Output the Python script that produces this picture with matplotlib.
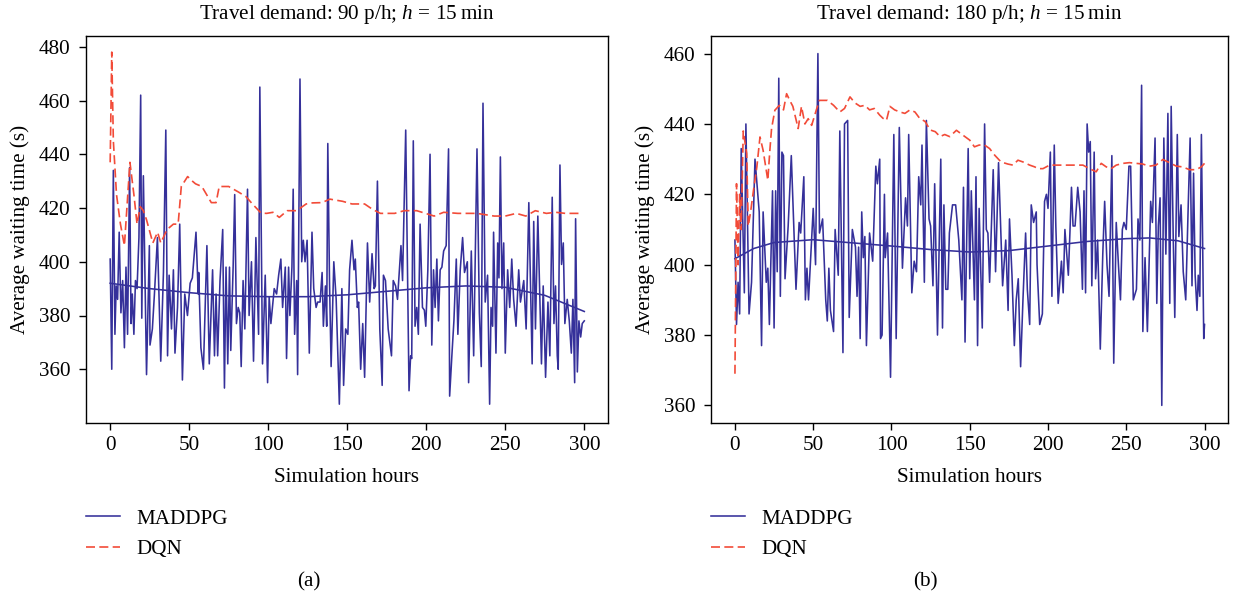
import numpy as np
import matplotlib.pyplot as plt

plt.rcParams['font.family'] = ['Liberation Serif', 'DejaVu Serif']
plt.rcParams['mathtext.fontset'] = 'custom'
plt.rcParams['mathtext.rm'] = 'Liberation Serif'
plt.rcParams['mathtext.it'] = 'Liberation Serif:italic'

# ---- panel (a): 90 p/h ----
hoursA = [0, 1, 2, 3, 3.8, 4.7, 5.7, 6.8, 7.9, 9, 10, 11, 12.3, 13.2, 14, 15, 16, 17, 18.2, 19.3,
          20, 21, 23, 24.8, 25.2, 26.7, 28, 29.9, 32, 33.7, 35.2, 36.3, 37.3, 38.8, 40, 41, 42.6, 44,
          45.7, 47.2, 48.9, 50.6, 52, 54.3, 55.7, 56, 57.4, 59, 61.2, 62.7, 64.8, 66, 67, 68, 69.5,
          71.2, 72.3, 73.3, 74.4, 75.5, 76.3, 77.8, 78.8, 79.9, 81, 82, 82.9, 84.1, 85.2, 86.9, 87.9,
          89.4, 90.7, 92.2, 93.9, 94.7, 96.4, 98.1, 99.6, 100.6, 101.7, 103.8, 105.3, 106.6, 108,
          109.1, 110.8, 111.6, 112.9, 113.7, 115, 115.8, 116.7, 118, 118.6, 120.1, 121.2, 122.2,
          123.3, 124.6, 126, 127.7, 128.8, 130.3, 131.3, 132.8, 134.1, 134.9, 136.2, 137, 137.7,
          138.8, 139.8, 141.5, 143, 145, 146.6, 147.7, 149, 150.4, 151.5, 153, 154.3, 155.1, 156.4,
          157.2, 158.5, 159.8, 161, 162.8, 164.2, 165.7, 167, 167.8, 169.1, 170.6, 172.1, 172.9,
          174.2, 175.9, 178, 179.1, 180.6, 181.8, 184, 185, 187, 189.1, 190.1, 190.8, 191.8, 192.9,
          194, 195, 196.1, 197.6, 198.8, 199.7, 201, 202.4, 203.5, 204.6, 205.6, 206.7, 207.7,
          208.8, 209.9, 211, 212.6, 214.1, 214.8, 216.2, 217.5, 219, 220, 221.5, 223, 224.2, 226,
          226.8, 228.5, 230, 232.1, 233.6, 234.8, 235.9, 237.3, 238.8, 240.1, 241, 242, 242.6,
          244.1, 245.2, 246, 246.9, 247.9, 249, 250, 251.5, 252.8, 254.1, 255.3, 256.8, 258.5,
          259.6, 261.7, 263.2, 264.9, 267, 268, 269.1, 270.6, 272.9, 274, 275.5, 277, 278.2, 279.7,
          280.8, 281.8, 282.9, 283.5, 284.6, 285.6, 286.7, 287.7, 289.2, 290.5, 291.8, 292.8,
          293.9, 294.5, 295.6, 296.6, 297.7, 298.7, 300]
maddpgA = [401, 360, 434, 373, 391, 386, 411, 381, 393, 368, 398, 373, 435, 377, 388, 373, 393, 390, 409, 462,
           379, 432, 358, 406, 369, 375, 388, 409, 363, 396, 449, 365, 395, 375, 397, 366, 383, 414,
           356, 388, 380, 392, 394, 411, 388, 396, 368, 360, 406, 362, 397, 365, 388, 365, 393,
           412, 353, 398, 362, 398, 367, 398, 425, 377, 383, 381, 361, 393, 375, 427, 380,
           400, 363, 409, 373, 465, 362, 395, 355, 387, 377, 390, 388, 395, 401,
           383, 398, 364, 398, 380, 398, 427, 373, 393, 358, 468, 400, 408,
           400, 408, 366, 411, 390, 383, 385, 385, 396, 376, 391, 376, 444,
           392, 361, 400, 386, 347, 390, 354, 375, 373, 397, 408, 397, 401, 383,
           385, 360, 377, 357, 407, 385, 403, 390, 391, 430, 375, 354, 395,
           393, 375, 365, 393, 391, 386, 406, 393, 449, 352, 365, 364, 445, 376,
           383, 373, 414, 383, 382, 376, 397, 440, 369, 397, 383, 401, 378,
           397, 398, 404, 406, 442, 350, 365, 378, 401, 373, 397, 409, 396, 400,
           355, 404, 365, 442, 381, 361, 459, 385, 395, 347, 383, 376, 411,
           366, 407, 394, 439, 390, 407, 366, 397, 383, 401, 386, 376, 397,
           385, 393, 375, 422, 362, 415, 375, 417, 362, 391, 357, 385, 365, 424,
           377, 391, 365, 360, 436, 399, 407, 377, 386, 378, 366, 386,
           355, 416, 359, 378, 372, 377, 378]
trendHoursA = [0, 25, 50, 75, 100, 125, 150, 175, 200, 225, 250, 275, 300]
trendA = [392, 390, 388.5, 387.3, 387, 387, 387.7, 389, 390.3, 391, 390.5, 387.5, 381.5]
dqnHoursA = [0, 1, 2, 4, 6.5, 9, 12.5, 15, 17, 19, 21, 23, 27, 30, 32, 36, 40, 43, 45, 49, 52, 54, 58,
             61, 64, 67, 69, 75, 81, 86, 90, 95.5, 99, 103, 107, 112, 118, 124, 128, 134, 139, 147,
             153, 161, 166, 171, 180, 186, 194, 205, 211, 220, 232, 243, 250, 257, 263, 269, 276,
             282, 288, 298]
dqnA = [437, 478, 445, 425, 414, 406, 437, 425, 414, 420.5, 419, 415.6, 407, 411, 407, 412, 414, 414,
        428, 431.7, 430, 429, 428, 425, 422, 422, 428, 428, 426, 424.2, 421.5, 418.1, 418, 418.4,
        416.5, 419, 419, 421.5, 421.9, 422, 423.3, 422.5, 421.5, 421.5, 419.5, 418, 418, 419, 419,
        417, 418.4, 418, 418, 417, 417, 418, 417, 419, 418, 418.4, 418, 418]

# ---- panel (b): 180 p/h ----
hoursB = [0, 1, 2, 3, 4, 6, 7, 9, 10.6, 12.8, 15.5, 17, 18, 20, 21, 22, 24, 25, 26, 27, 28, 29, 30,
          31, 32, 34, 36, 39, 41, 42, 44, 45, 46, 47, 48.5, 50, 51.5, 53, 54, 56, 58, 59, 60, 61, 63,
          64, 66, 67, 69, 70, 72, 73, 75, 77, 78, 79, 80, 81, 82, 83, 84, 86, 88, 90, 91, 92.5, 93,
          94, 95.5, 96, 97.5, 99.4, 101.5, 103, 105, 107, 109, 110.2, 111, 113, 114.5, 116, 117.4,
          118.7, 119.5, 121, 122.3, 124, 125, 126.5, 127.6, 129.4, 131.5, 132.6, 133.5, 134.7,
          136, 137, 139, 141, 143, 145, 146, 147, 149, 150, 151, 153, 154, 155, 156, 158, 159.5,
          160.6, 161.6, 162.7, 165, 166.5, 168.4, 171, 173, 174.5, 175.4, 177, 178.5, 179.7, 181,
          182.5, 184, 185.7, 186.8, 188.3, 189.3, 190.8, 192.5, 193, 194.7, 196.4, 197.8, 199,
          200, 201.5, 202.5, 204, 205, 206.5, 208.6, 209.7, 210.8, 213, 214, 215, 216, 217.3, 219,
          220.5, 222, 223, 224, 225, 226, 227, 228, 229.5, 230.4, 231.7, 233.4, 235, 236.2, 237.7,
          239, 240.8, 242, 243.6, 245, 246.3, 247.5, 248.5, 250, 251.7, 252.8, 254.5, 256.5,
          257.5, 258.7, 259.8, 260.6, 262, 263.5, 265.6, 266.7, 268.4, 269.5, 270.5, 271.6,
          272.7, 274, 275.3, 276.6, 277.8, 278.7, 280, 281, 282.6, 283.6, 285, 286.4, 288, 289.6,
          290.8, 292, 293, 294, 295.2, 296, 297, 298, 299, 299.5, 300]
maddpgB = [407, 383, 395, 386, 433, 392, 440, 386, 395, 430, 415, 377, 415, 395, 399, 383, 421, 382, 421, 398, 453, 391, 432,
           431, 396, 411, 431, 393, 412, 409, 425, 390, 399, 390, 403, 416, 400, 460, 409, 413, 390, 384, 399, 387, 381,
           410, 397, 438, 375, 440, 441, 385, 410, 405, 391, 405, 379, 415, 402, 408, 377, 409, 401, 428, 423, 430, 379,
           380, 420, 402, 409, 368, 437, 379, 439, 399, 419, 411, 437, 392, 401, 398, 425,
           417, 434, 395, 441, 413, 411, 394, 423, 380, 430, 382, 417, 393,
           393, 409, 417, 417, 407, 390, 422, 378, 433, 396, 421, 390, 425, 377, 416, 382, 440,
           410, 409, 395, 427, 398, 429, 394, 407, 387, 413, 397, 377, 390, 396,
           371, 390, 409, 393, 383, 417, 412, 415, 400, 383, 386, 418, 420,
           416, 432, 391, 434, 411, 389, 401, 392, 410, 397, 409, 422, 411, 411, 422,
           415, 393, 421, 392, 440, 432, 435, 394, 432, 396, 407, 376, 403, 418, 400,
           391, 431, 372, 412, 400, 390, 410, 412, 410, 428, 428, 390, 393,
           413, 407, 451, 381, 402, 381, 418, 412, 436, 389, 411, 419,
           360, 436, 403, 443, 389, 445, 408, 385, 437, 408, 417, 398, 390, 417,
           436, 394, 426, 397, 387, 397, 391, 437, 397, 379, 383]
trendHoursB = [0, 12, 25, 50, 75, 100, 125, 150, 175, 200, 225, 250, 265, 283, 300]
trendB = [401.7, 404.6, 406.3, 407.1, 406.2, 405.3, 404.3, 403.6, 404, 405.3, 406.6, 407.4, 407.6, 406.8, 404.6]
dqnHoursB = [0, 1, 2, 3, 4, 5.3, 7.5, 8.5, 10, 11.7, 14, 16, 18, 21, 22.3, 23.4, 25.5, 28.4, 31, 33, 35,
             37, 40.4, 42.5, 44.7, 46.8, 49, 52, 54, 59, 63, 67, 70, 73.5, 76.6, 80, 83, 86, 89, 92.5,
             94.6, 96.8, 99, 102, 105.4, 108.6, 111.8, 115, 118, 121.5, 124.7, 128, 131, 134, 137.2,
             141.5, 145.7, 150, 153, 156, 159.5, 162.7, 166, 170, 174.4, 177.6, 180.8, 184, 188.3,
             191.5, 193.6, 196.8, 201, 205.3, 209.5, 214, 218, 222.3, 226.5, 230.8, 234, 237.2,
             240.4, 243.6, 248, 252, 256.4, 260.6, 264.8, 269, 273.4, 277.6, 282, 286, 290.4, 294.6,
             298, 300]
dqnB = [369, 423, 400, 420, 410, 438, 431.6, 411, 415, 420.7, 427.8, 436.3, 432.5, 424, 432.5, 438.7, 443.9,
        445.3, 444, 448.6, 446.7, 445, 438.7, 445, 440, 441.5, 439.6, 444, 446.7, 446.7, 445.3, 443.4,
        444.4, 447.7, 446, 445, 445.3, 444, 444.4, 442.5, 441.6, 441, 445, 444, 443.4, 443, 444, 443.4,
        441.6, 440.7, 438.3, 437.8, 436.4, 437, 436.4, 438.2, 436.8, 435.4, 433.5, 434, 434, 433,
        431.1, 429.2, 428.6, 428.3, 429.7, 429.2, 428.3, 427.8, 427.3, 427.3, 428.3, 428.3, 428.3,
        428.3, 428.3, 428.3, 427.3, 426.4, 428.8, 427.8, 427.3, 428.3, 428.8, 429, 428.8, 428.6,
        428, 428.3, 429.9, 429, 428, 427.8, 427, 427, 427.8, 428.8]

xTicks = [0, 50, 100, 150, 200, 250, 300]
yTicksA = [360, 380, 400, 420, 440, 460, 480]
yTicksB = [360, 380, 400, 420, 440, 460]

maddpgColor = '#35309a'
dqnColor = '#f24b38'
fontSize = 15.2


def plotPanel(ax, hours, maddpg, trendHours, trend, dqnHours, dqn, yTicks, yLim, title):
    ax.plot(hours, maddpg, color=maddpgColor, lw=1.15, label='MADDPG')
    ax.plot(trendHours, trend, color=maddpgColor, lw=1.15)
    ax.plot(dqnHours, dqn, color=dqnColor, lw=1.2, ls=(0, (5.4, 2.6)), label='DQN')
    ax.set_xlim(-15.3, 315)
    ax.set_ylim(*yLim)
    ax.set_xticks(xTicks)
    ax.set_yticks(yTicks)
    ax.tick_params(direction='out', length=5, width=1, labelsize=fontSize, top=False, right=False)
    ax.tick_params(axis='y', pad=6)
    ax.tick_params(axis='x', pad=4)
    for s in ax.spines.values():
        s.set_linewidth(1.0)
    ax.set_xlabel('Simulation hours', fontsize=fontSize)
    ax.xaxis.label.set_va('center')
    ax.xaxis.set_label_coords(0.5, -55 / 387)
    ax.set_ylabel('Average waiting time (s)', fontsize=fontSize)
    ax.yaxis.label.set_va('center')
    ax.yaxis.set_label_coords(-66 / 522, 0.5)
    # title sits centred over the plot frame
    ax.text(0.5, 1 + 22 / 387, title, transform=ax.transAxes, ha='center', va='center', fontsize=fontSize)


fig = plt.figure(figsize=(12.34, 6.03), dpi=100)
axA = fig.add_axes([86 / 1234, 1 - 423 / 603, 522 / 1234, 387 / 603])
axB = fig.add_axes([711 / 1234, 1 - 423 / 603, 517 / 1234, 387 / 603])

plotPanel(axA, hoursA, maddpgA, trendHoursA, trendA, dqnHoursA, dqnA, yTicksA, (340, 484),
          'Travel demand: 90 p/h; $h$ = 15\u2009min')
plotPanel(axB, hoursB, maddpgB, trendHoursB, trendB, dqnHoursB, dqnB, yTicksB, (355, 465),
          'Travel demand: 180 p/h; $h$ = 15\u2009min')

for ax, x0 in [(axA, 86), (axB, 711)]:
    ax.legend(loc='upper left', bbox_to_anchor=(x0 / 1234, 1 - 509 / 603), bbox_transform=fig.transFigure,
              frameon=False, borderpad=0, borderaxespad=0, handlelength=1.62, handletextpad=0.78,
              labelspacing=0.5, fontsize=fontSize)

fig.text(309 / 1234, 1 - 582 / 603, '(a)', ha='center', va='center', fontsize=fontSize)
fig.text(925 / 1234, 1 - 582 / 603, '(b)', ha='center', va='center', fontsize=fontSize)

fig.savefig('out.png', dpi=100)
